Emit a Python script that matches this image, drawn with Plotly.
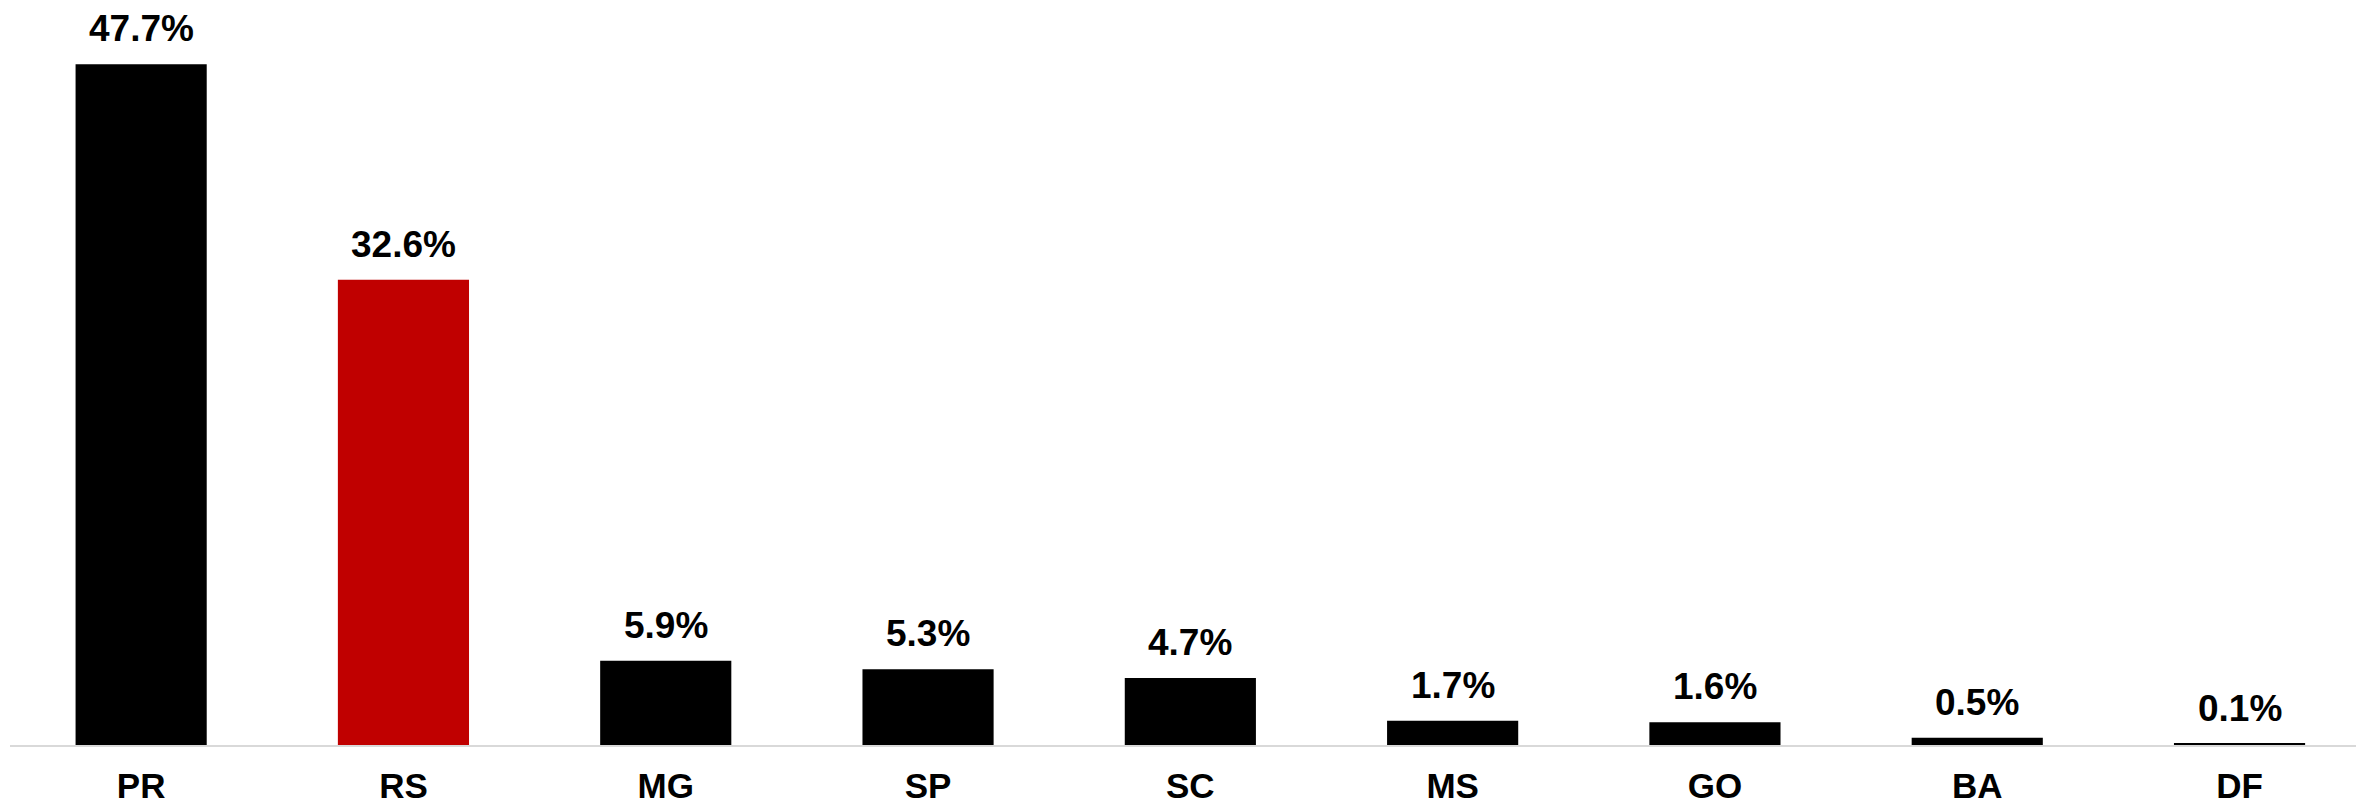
import plotly.graph_objects as go

categories = ["PR", "RS", "MG", "SP", "SC", "MS", "GO", "BA", "DF"]
values = [47.7, 32.6, 5.9, 5.3, 4.7, 1.7, 1.6, 0.5, 0.1]
labels = ["47.7%", "32.6%", "5.9%", "5.3%", "4.7%", "1.7%", "1.6%", "0.5%", "0.1%"]
colors = ["#000000", "#C00000", "#000000", "#000000", "#000000",
          "#000000", "#000000", "#000000", "#000000"]

FONT = "Liberation Sans, Arial, sans-serif"

fig = go.Figure()
fig.add_trace(go.Bar(
    x=categories, y=values,
    marker=dict(color=colors, line=dict(width=0)),
    hoverinfo="skip",
))

for c, v, t in zip(categories, values, labels):
    fig.add_annotation(
        x=c, y=v, text="<b>%s</b>" % t, showarrow=False,
        yanchor="bottom", xanchor="center", yshift=13,
        font=dict(family=FONT, size=37, color="#000000"),
    )

fig.update_layout(
    width=2356, height=805,
    margin=dict(l=10, r=0, t=0, b=60, autoexpand=False),
    paper_bgcolor="white", plot_bgcolor="white",
    bargap=0.5, showlegend=False,
    font=dict(family=FONT, size=35, color="#000000"),
)
fig.update_xaxes(
    range=[-0.5, 8.444], showline=True, linecolor="#d9d9d9", linewidth=2,
    showgrid=False, zeroline=False, ticks="outside", ticklen=9,
    tickcolor="rgba(0,0,0,0)", automargin=False,
    tickfont=dict(family=FONT, size=35, color="#000000"),
    tickprefix="<b>", ticksuffix="</b>",
)
fig.update_yaxes(
    range=[0, 52.2], visible=False, showgrid=False, zeroline=False,
    automargin=False,
)

fig.write_html(
    "out.html",
    config={"displayModeBar": False},
    post_script="document.body.style.margin='0';document.body.style.overflow='hidden';",
)
